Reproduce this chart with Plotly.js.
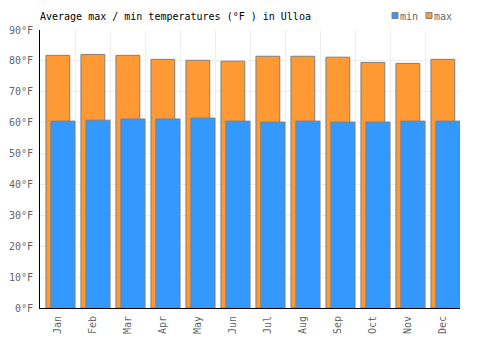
<!DOCTYPE html>
<html>
<head>
<meta charset="utf-8">
<script src="https://cdn.plot.ly/plotly-3.0.1.min.js"></script>
<style>html,body{margin:0;padding:0;background:#fff;}#chart{width:500px;height:350px;}</style>
</head>
<body>
<div id="chart"></div>
<script>
// ---- data ----
const months = ["Jan","Feb","Mar","Apr","May","Jun","Jul","Aug","Sep","Oct","Nov","Dec"];
const maxTemps = [81.8, 82.1, 81.8, 80.5, 80.2, 79.9, 81.5, 81.5, 81.2, 79.5, 79.2, 80.5];
const minTemps = [60.5, 60.8, 61.2, 61.2, 61.5, 60.5, 60.2, 60.5, 60.2, 60.2, 60.5, 60.5];
const titleText = "Average max / min temperatures (°F ) in Ulloa";
const seriesNames = ["min", "max"];
const seriesColors = ["#3399ff", "#ff9933"];

// ---- layout helpers ----
const W = 500, H = 350;
const M = {l: 40, r: 40, t: 30, b: 42};
const pw = W - M.l - M.r, ph = H - M.t - M.b;
const px2x = p => (p - M.l) / pw;
const px2y = p => (H - M.b - p) / ph;
const FONT = "DejaVu Sans Mono, monospace";

const traces = [
  {
    type: "bar", name: seriesNames[1], x: months, y: maxTemps,
    offset: -0.33, width: 0.68,
    marker: {color: seriesColors[1], line: {color: "#808080", width: 1}},
    hoverinfo: "y"
  },
  {
    type: "bar", name: seriesNames[0], x: months, y: minTemps,
    offset: -0.19, width: 0.69,
    marker: {color: seriesColors[0], line: {color: "#808080", width: 1}},
    hoverinfo: "y"
  }
];

// legend-like key drawn at top right
const keyShapes = [];
const keyAnn = [];
const keyX = [392, 426];
seriesNames.forEach((n, i) => {
  keyShapes.push({
    type: "rect", xref: "paper", yref: "paper", layer: "above",
    x0: px2x(keyX[i]), x1: px2x(keyX[i] + 6),
    y0: px2y(18.5), y1: px2y(12.5),
    fillcolor: seriesColors[i], line: {color: "#808080", width: 1}
  });
  keyAnn.push({
    xref: "paper", yref: "paper", x: px2x(keyX[i] + 7), y: px2y(16),
    xanchor: "left", yanchor: "middle", showarrow: false, text: n,
    font: {family: FONT, size: 10, color: "#666"}, borderpad: 0
  });
});

const layout = {
  width: W, height: H,
  margin: M,
  paper_bgcolor: "#fff", plot_bgcolor: "#fff",
  barmode: "overlay",
  showlegend: false,
  font: {family: FONT, size: 10, color: "#666"},
  title: {
    text: titleText, x: M.l / W, xanchor: "left", xref: "container",
    y: 1 - 16 / H, yanchor: "middle", yref: "container",
    font: {family: FONT, size: 10, color: "#000"}
  },
  xaxis: {
    type: "category", tickson: "boundaries", range: [-0.5, 11.5],
    showgrid: true, gridcolor: "#eeeeee", gridwidth: 1,
    showline: true, linecolor: "#000", linewidth: 1,
    ticks: "", tickangle: -90, ticklabelstandoff: 3,
    tickfont: {family: FONT, size: 10, color: "#666"}
  },
  yaxis: {
    range: [0, 90], dtick: 10, tick0: 0, ticksuffix: "°F",
    showgrid: true, gridcolor: "#eeeeee", gridwidth: 1,
    zeroline: false,
    showline: true, linecolor: "#000", linewidth: 1,
    ticks: "", ticklabelstandoff: 4,
    tickfont: {family: FONT, size: 10, color: "#666"}
  },
  shapes: keyShapes,
  annotations: keyAnn
};

Plotly.newPlot("chart", traces, layout, {displayModeBar: false, staticPlot: true});
</script>
</body>
</html>
